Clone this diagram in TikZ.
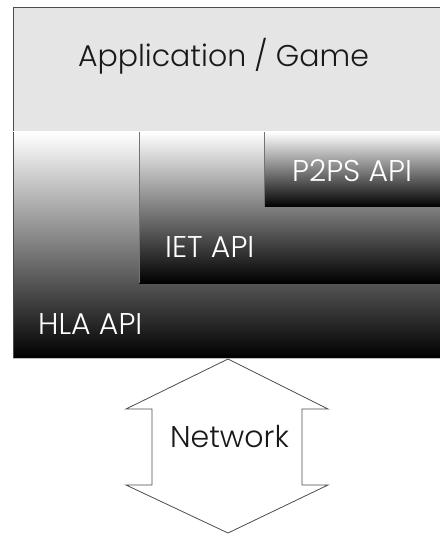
\documentclass[tikz,border=0pt]{standalone}
\usepackage{fontspec}
\setmainfont{Poppins}[UprightFont={* Light}]
\begin{document}
\begin{tikzpicture}[x=1pt,y=-1pt,
  layer/.style={inner sep=0pt,outer sep=0pt,anchor=north west},
  ramp/.style={layer,top color=white,bottom color=black},
  lbl/.style={font=\fontsize{30}{30}\selectfont,inner sep=0pt},
  apilbl/.style={lbl,text=white,anchor=base west},
  edge/.style={draw=black!70,line width=0.8pt}]
\useasboundingbox (0,0) rectangle (439,534);

% application layer
\node[layer,fill=black!10,edge,minimum width=440pt,minimum height=125pt] (app) at (13,7) {};
\node[lbl,anchor=base,text=black!90] (apptxt) at (223.5,67) {Application / Game};

% stacked API layers, each shaded from light to dark
\node[ramp,minimum width=427pt,minimum height=226pt] (hla) at (13,132) {};
\node[ramp,minimum width=301pt,minimum height=151pt] (iet) at (139,132) {};
\node[ramp,minimum width=176pt,minimum height=75pt] (p2ps) at (264,132) {};
\draw[edge] (app.south west) -- (hla.south west);
\draw[draw=black!55,line width=0.8pt] (iet.north west) -- (iet.south west);
\draw[draw=black!55,line width=0.8pt] (p2ps.north west) -- (p2ps.south west);
\draw[draw=black!25,line width=0.8pt] (hla.south west) -- (hla.south east);

\node[apilbl] (p2pstxt) at (292,182) {P2PS API};
\node[apilbl] (iettxt) at (165,257) {IET API};
\node[apilbl] (hlatxt) at (38,334) {HLA API};

% two-headed network arrow
\draw[edge,line join=miter] (228,359) -- (328,409) -- (302,409) -- (302,485) -- (328,485)
  -- (228,533) -- (126,485) -- (152,485) -- (152,409) -- (126,409) -- cycle;
\node[lbl,anchor=base,text=black!90] (net) at (229.5,447) {Network};
\end{tikzpicture}
\end{document}
